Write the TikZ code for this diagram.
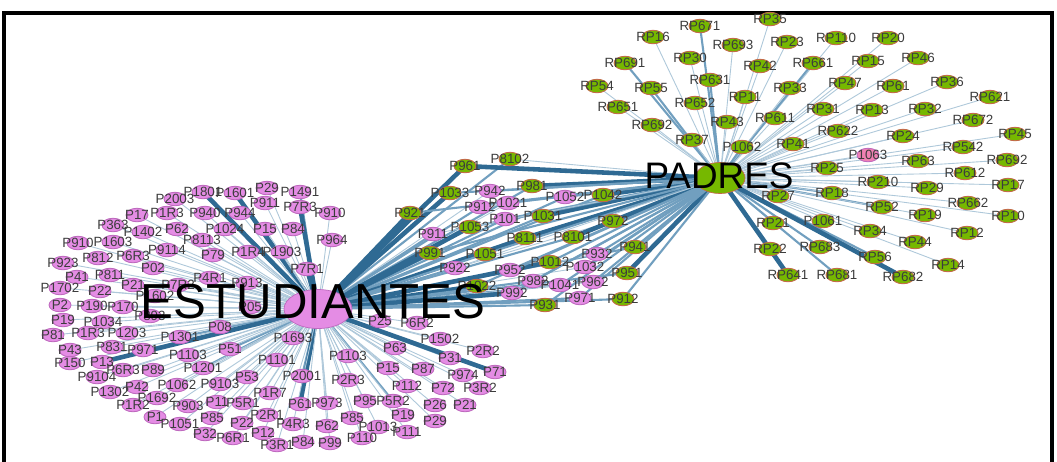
\documentclass[tikz,border=0pt]{standalone}
\usepackage{fontspec}
\setmainfont{Liberation Sans}
\usetikzlibrary{shapes.geometric}
\definecolor{edgeblue}{RGB}{52,118,163}
\definecolor{nodepink}{RGB}{228,140,228}
\definecolor{pinkrim}{RGB}{190,105,190}
\definecolor{nodegreen}{RGB}{118,184,0}
\definecolor{greenrim}{RGB}{196,104,72}
\definecolor{labelgray}{RGB}{60,60,60}
\pgfdeclarelayer{bg}
\pgfdeclarelayer{edges}
\pgfdeclarelayer{fg}
\pgfsetlayers{bg,edges,main,fg}
\tikzset{pk/.style={ellipse, fill=nodepink, draw=pinkrim, line width=0.5pt,
		minimum width=0.44cm, minimum height=0.27cm, inner sep=0pt},
	gn/.style={ellipse, fill=nodegreen, draw=greenrim, line width=0.5pt,
		minimum width=0.44cm, minimum height=0.27cm, inner sep=0pt},
	lbl/.style={font=\fontsize{7.6}{8}\selectfont, text=labelgray, inner sep=0pt},
	w1/.style={line width=0.5pt, draw=edgeblue!40},
	w2/.style={line width=1.2pt, draw=edgeblue!70},
	w3/.style={line width=2.6pt, draw=edgeblue!90!black}}
% x/y/label/weight
\def\studlist{203/192/P1801/3, 235/193/P1601/3, 267/188/P29/1, 300/192/P1491/2,
	175/199/P2003/1, 137/215/P17/1, 167/213/P1R3/1, 205/213/P940/1, 240/213/P944/1,
	265/203/P911/1, 300/207/P7R3/3, 330/213/P910/1, 113/225/P363/1, 143/232/P1402/1,
	177/229/P62/1, 225/229/P1024/1, 265/229/P15/1, 293/229/P84/1, 332/240/P964/1,
	78/243/P910/1, 113/242/P1603/1, 202/240/P8113/1, 167/250/P9114/1, 213/255/P79/1,
	248/252/P1R4/1, 282/252/P1903/1, 63/263/P923/1, 98/258/P812/1, 133/256/P6R3/1,
	153/268/P02/1, 307/269/P7R1/3, 77/277/P41/1, 110/275/P811/1, 210/278/P4R1/1,
	247/283/P913/1, 60/288/P1702/1, 100/291/P22/1, 133/285/P21/1, 178/285/P7R2/1,
	155/296/P1602/1, 60/305/P2/1, 92/306/P190/1, 123/307/P170/1, 250/307/P05/1,
	63/320/P19/1, 103/322/P1034/1, 150/316/P893/1, 53/335/P81/1, 88/333/P1R3/1,
	127/333/P1203/1, 180/337/P1301/2, 220/327/P08/1, 70/350/P43/1, 112/347/P831/1,
	143/350/P971/1, 188/355/P1103/1, 293/338/P1693/2, 230/349/P51/2, 70/363/P150/1,
	102/362/P13/3, 123/370/P6R3/1, 153/370/P89/1, 203/368/P1201/2, 277/360/P1101/1,
	97/377/P9104/1, 137/387/P42/1, 177/385/P1062/1, 220/384/P9103/1, 247/377/P53/1,
	302/376/P2001/2, 110/392/P1302/1, 157/398/P1692/1, 133/405/P1R2/1, 188/406/P903/1,
	217/402/P11/1, 243/403/P5R1/1, 270/393/P1R7/1, 300/404/P61/3, 327/403/P973/1,
	155/417/P1/1, 180/424/P1051/1, 212/418/P85/1, 242/423/P22/1, 267/415/P2R1/1,
	293/424/P4R3/1, 327/426/P62/1, 205/434/P32/1, 233/438/P6R1/1, 263/433/P12/1,
	277/445/P3R1/1, 303/442/P84/1, 330/443/P99/1, 380/321/P25/1, 417/323/P6R2/1,
	440/339/P1502/1, 395/348/P63/1, 483/351/P2R2/1, 450/358/P31/2, 348/356/P1103/1,
	388/368/P15/1, 423/369/P87/1, 463/375/P974/1, 495/372/P71/3, 348/380/P2R3/1,
	407/386/P112/1, 443/388/P72/1, 480/388/P3R2/1, 365/401/P95/1, 393/401/P5R2/2,
	435/405/P26/1, 465/405/P21/1, 403/415/P19/1, 435/421/P29/1, 352/418/P85/1,
	378/427/P1013/1, 407/432/P111/1, 362/438/P110/1}
\def\padrelist{700/26/RP671/2, 770/19/RP35/1, 653/37/RP16/1, 733/45/RP693/1,
	787/42/RP23/1, 836/38/RP110/1, 888/38/RP20/1, 625/63/RP691/2, 690/58/RP30/1,
	760/66/RP42/1, 813/63/RP661/2, 597/86/RP54/1, 651/88/RP55/2, 710/80/RP631/2,
	790/88/RP33/1, 845/83/RP47/1, 868/61/RP15/1, 918/58/RP46/1, 893/86/RP61/1,
	947/82/RP36/1, 990/97/RP621/1, 618/107/RP651/1, 695/103/RP652/1, 745/97/RP11/1,
	823/109/RP31/1, 872/110/RP13/1, 925/109/RP32/1, 973/120/RP672/1, 652/125/RP692/1,
	727/122/RP43/1, 775/118/RP611/1, 838/131/RP622/1, 903/136/RP24/1, 1015/134/RP45/1,
	963/147/RP542/1, 692/140/RP37/1, 742/147/P1062/2, 793/144/RP41/1, 918/161/RP63/1,
	1007/160/RP692/1, 827/168/RP25/1, 965/173/RP612/1, 878/182/RP210/1, 927/188/RP29/1,
	1008/185/RP17/1, 778/196/RP27/1, 832/193/RP18/2, 968/203/RP662/1, 882/207/RP52/2,
	925/215/RP19/1, 1008/216/RP10/1, 773/223/RP21/1, 823/221/P1061/1, 870/231/RP34/1,
	967/233/RP12/1, 915/242/RP44/1, 770/249/RP22/1, 820/247/RP683/2, 875/257/RP56/2,
	948/265/RP14/1, 788/275/RP641/3, 837/275/RP681/2, 903/277/RP682/3}
% x/y/label/style/weight to ESTUDIANTES/weight to PADRES
\def\midlist{510/159/P8102/gn/2/1, 465/166/P961/gn/3/3, 532/186/P981/gn/2/3,
	450/193/P1033/gn/3/2, 490/191/P942/pk/1/2, 565/197/P1052/pk/2/2, 603/195/P1042/gn/2/3,
	480/207/P912/pk/2/1, 508/203/P1021/pk/1/2, 410/213/P921/gn/3/2, 505/219/P101/pk/2/2,
	543/216/P1031/gn/2/3, 470/227/P1053/gn/3/2, 433/234/P911/pk/2/1, 613/221/P972/gn/1/2,
	525/238/P8111/gn/3/3, 573/237/P8101/gn/2/3, 430/253/P991/gn/3/2, 485/254/P1051/gn/2/2,
	635/247/P941/gn/2/2, 597/254/P932/pk/1/2, 455/268/P922/pk/2/1, 510/270/P952/pk/2/2,
	550/262/P1012/gn/3/2, 585/267/P1032/pk/1/2, 627/273/P951/gn/2/3, 477/286/P1022/gn/3/2,
	533/281/P982/pk/2/2, 560/285/P1041/pk/2/2, 593/282/P962/pk/1/2, 512/293/P992/pk/3/2,
	580/298/P971/pk/2/2, 623/299/P912/gn/2/2, 545/305/P931/gn/2/2}

\begin{document}
\begin{tikzpicture}[x={(0.02cm,0)}, y={(0,-0.02cm)}]
	\useasboundingbox (0,0) rectangle (1057,461);
	\begin{pgfonlayer}{bg}
		\fill[white] (0,0) rectangle (1057,461);
	\end{pgfonlayer}
	\draw[line width=1.8pt] (4,13) rectangle (1052,480);
	
	% hubs
	\node[ellipse, fill=nodepink, draw=pinkrim, minimum width=1.36cm, minimum height=0.78cm] (est) at (318,309) {};
	\node[ellipse, fill=nodegreen, draw=greenrim, minimum width=1.0cm, minimum height=0.62cm] (pad) at (720,178) {};
	
	\foreach \x/\y/\t/\w [count=\i] in \studlist {
		\node[pk] (e\i) at (\x,\y) {};
		\begin{pgfonlayer}{fg}\node[lbl] (el\i) at (e\i.center) {\t};\end{pgfonlayer}
		\begin{pgfonlayer}{edges}\draw[w\w] (est.center) -- (e\i.center);\end{pgfonlayer}
	}
	\foreach \x/\y/\t/\w [count=\i] in \padrelist {
		\node[gn] (r\i) at (\x,\y) {};
		\begin{pgfonlayer}{fg}\node[lbl] (rl\i) at (r\i.center) {\t};\end{pgfonlayer}
		\begin{pgfonlayer}{edges}\draw[w\w] (pad.center) -- (r\i.center);\end{pgfonlayer}
	}
	\foreach \x/\y/\t/\s/\a/\b [count=\i] in \midlist {
		\node[\s] (m\i) at (\x,\y) {};
		\begin{pgfonlayer}{fg}\node[lbl] (ml\i) at (m\i.center) {\t};\end{pgfonlayer}
		\begin{pgfonlayer}{edges}
			\draw[w\a] (est.center) -- (m\i.center);
			\draw[w\b] (pad.center) -- (m\i.center);
		\end{pgfonlayer}
	}
	\node[pk, fill=nodepink!70!red!80] (odd) at (868,155) {};
	\begin{pgfonlayer}{fg}\node[lbl] (oddl) at (odd.center) {P1063};\end{pgfonlayer}
	\begin{pgfonlayer}{edges}\draw[w1] (pad.center) -- (odd.center);\end{pgfonlayer}
	
	\begin{pgfonlayer}{fg}
		\node[font=\fontsize{28}{30}\selectfont, inner sep=0pt] (estl) at (313,302) {ESTUDIANTES};
		\node[font=\fontsize{21}{23}\selectfont, inner sep=0pt] (padl) at (719,176) {PADRES};
	\end{pgfonlayer}
\end{tikzpicture}
\end{document}
